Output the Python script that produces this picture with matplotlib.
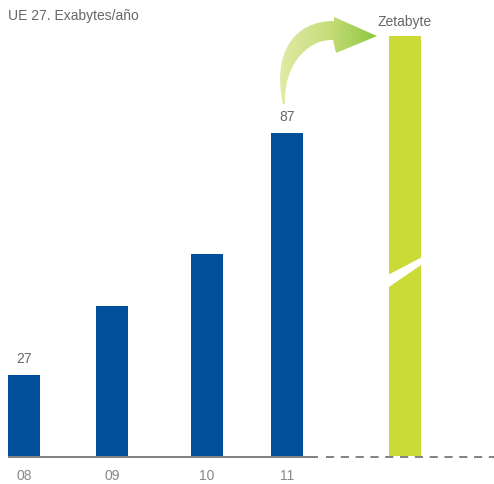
import matplotlib
matplotlib.use('Agg')
import matplotlib.pyplot as plt
import numpy as np
from matplotlib.patches import Polygon, PathPatch
from matplotlib.path import Path
from matplotlib.colors import LinearSegmentedColormap

plt.rcParams['font.family'] = ['Liberation Sans', 'DejaVu Sans']

# EU-27 data traffic, exabytes per year
years = ['08', '09', '10', '11']
exabytes = [27, 44, 57, 87]
labelled = {0: '27', 3: '87'}
zetabyte_label = 'Zetabyte'
zetabyte_bar = 111.1   # drawn to the top of the plot, scale is broken

BLUE = '#004f9a'
LIME = '#cbda37'
GREY_TEXT = '#666666'

W, H = 494, 485
fig = plt.figure(figsize=(W / 100, H / 100), dpi=100)

# plot area in pixel terms: x spans the whole width, y from 37 to 457 px
ax = fig.add_axes([0, (H - 457) / H, 1, (457 - 37) / H])
ax.set_xlim(0, W)
ax.set_ylim(6.9, 111.1)
ax.axis('off')

bar_x = [24, 112, 207, 287]
zeta_x = 405
bar_w = 32

ax.bar(bar_x, exabytes, width=bar_w, color=BLUE, zorder=2)
ax.bar([zeta_x], [zetabyte_bar], width=bar_w, color=LIME, zorder=2)

for i, txt in labelled.items():
    ax.annotate(txt, (bar_x[i], exabytes[i]), xytext=(0, 7), textcoords='offset points',
                ha='center', va='bottom', fontsize=10, color=GREY_TEXT)

# overlay in pixel coordinates for axis line, labels and the arrow
ov = fig.add_axes([0, 0, 1, 1])
ov.set_xlim(0, W)
ov.set_ylim(H, 0)
ov.axis('off')

ov.plot([8, 318], [457.5, 457.5], color='#777777', lw=1.3, solid_capstyle='butt')
ov.plot([326, W], [457.5, 457.5], color='#777777', lw=1.3, dashes=(4.5, 3.7))

for x, lab in zip(bar_x, years):
    ov.text(x, 476, lab, ha='center', va='center', fontsize=10, color='#888888')

ov.text(8, 16, 'UE 27. Exabytes/año', ha='left', va='center', fontsize=10,
        color=GREY_TEXT)
ov.text(zeta_x, 22, zetabyte_label, ha='center', va='center', fontsize=10,
        color=GREY_TEXT)

# break in the zetabyte bar
brk = Polygon([(386, 277), (424, 257), (424, 264), (386, 290)], closed=True,
              facecolor='white', edgecolor='none', zorder=5)
ov.add_patch(brk)

# curved arrow: two cubic curves for the shaft plus a triangular head
verts = [
    (283, 105), (272, 55), (293, 22), (334, 22),   # outer edge
    (334, 18), (377, 37), (336, 54),               # head
    (333, 41), (305, 40), (283, 70), (285, 105),   # inner edge
    (283, 105),
]
codes = [
    Path.MOVETO, Path.CURVE4, Path.CURVE4, Path.CURVE4,
    Path.LINETO, Path.LINETO, Path.LINETO,
    Path.LINETO, Path.CURVE4, Path.CURVE4, Path.CURVE4,
    Path.CLOSEPOLY,
]
arrow = PathPatch(Path(verts, codes), facecolor='none', edgecolor='none')
ov.add_patch(arrow)
cmap = LinearSegmentedColormap.from_list('arrow', ['#e3eba8', '#c8de7c', '#8cc63f'])
grad = np.linspace(0, 1, 256).reshape(1, -1)
img = ov.imshow(grad, cmap=cmap, extent=[276, 378, 108, 15], aspect='auto', zorder=4)
img.set_clip_path(arrow)
ov.set_xlim(0, W)
ov.set_ylim(H, 0)

fig.savefig('out.png', dpi=100)
